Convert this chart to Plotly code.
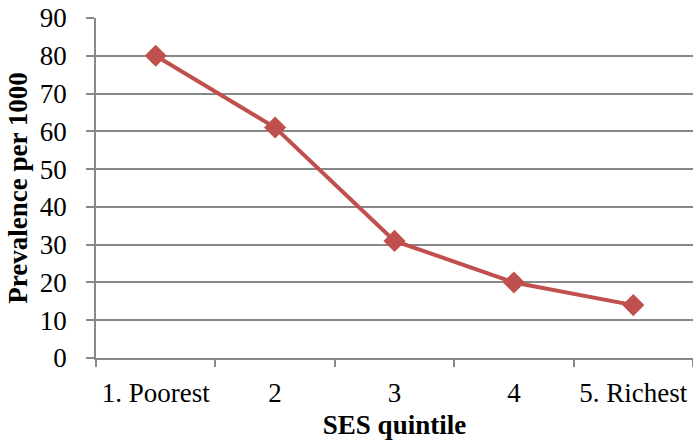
import plotly.graph_objects as go

categories = ["1. Poorest", "2", "3", "4", "5. Richest"]
prevalence = [80, 61, 31, 20, 14]
y_ticks = [0, 10, 20, 30, 40, 50, 60, 70, 80, 90]

line_color = "#C0504D"
grid_color = "#888888"
font_family = "Liberation Serif, Times New Roman, serif"

fig = go.Figure()
fig.add_trace(go.Scatter(
    x=categories, y=prevalence, mode="lines+markers",
    line=dict(color=line_color, width=4),
    marker=dict(symbol="diamond", size=17, color=line_color),
    showlegend=False, cliponaxis=False,
))

fig.update_layout(
    width=693, height=444,
    margin=dict(l=96, r=0, t=18, b=86),
    paper_bgcolor="white", plot_bgcolor="white",
    font=dict(family=font_family, size=27, color="black"),
)
fig.update_xaxes(
    type="category", range=[-0.5, 4.5], tickson="boundaries",
    ticks="outside", ticklen=7, tickwidth=1.5, tickcolor=grid_color,
    showgrid=False, showline=True, linecolor=grid_color, linewidth=1.5,
    tickfont=dict(size=27), ticklabelstandoff=10, automargin=False,
    ticklabeloverflow="allow",
    title=dict(text="<b>SES quintile</b>", font=dict(size=27), standoff=8),
)
fig.update_yaxes(
    range=[0, 90], tickvals=y_ticks,
    ticks="outside", ticklen=8, tickwidth=1.5, tickcolor=grid_color,
    showgrid=True, gridcolor=grid_color, gridwidth=1.5,
    showline=True, linecolor=grid_color, linewidth=1.5, zeroline=False,
    tickfont=dict(size=27), ticklabelstandoff=14, automargin=False,
    ticklabeloverflow="allow",
    title=dict(text="<b>Prevalence per 1000</b>", font=dict(size=27), standoff=4),
)

fig.write_html(
    "out.html",
    config={"displayModeBar": False},
    post_script="document.body.style.margin='0';document.body.style.overflow='hidden';",
)
